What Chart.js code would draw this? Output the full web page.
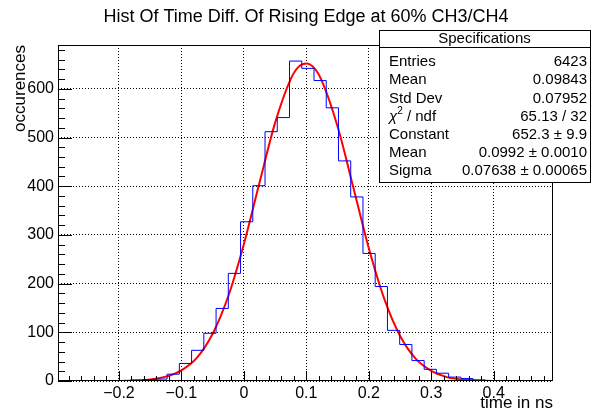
<!DOCTYPE html>
<html>
<head>
<meta charset="utf-8">
<script src="https://cdn.jsdelivr.net/npm/chart.js@4.4.1/dist/chart.umd.min.js"></script>
<style>
  body { margin: 0; background: #fff; }
</style>
</head>
<body>
<canvas id="chart" width="592" height="414"></canvas>
<script>
// histogram bins (lower edge of first bin, bin width) and counts
const firstEdge = -0.2993;
const binWidth = 0.0196;
const counts = [0, 0, 0, 0, 0, 0, 2, 3, 4, 14, 36, 63, 98, 149, 221, 327, 401, 512, 541, 657,
                642, 617, 561, 452, 378, 262, 194, 104, 75, 42, 24, 16, 8, 5, 2, 1, 0, 0, 0, 0, 0];

// gaussian fit curve, sampled from the red line
const fitX = [-0.2976, -0.2, -0.15, -0.125, -0.1, -0.075, -0.05, -0.025, 0, 0.025, 0.05, 0.075, 0.0875,
              0.1, 0.1125, 0.125, 0.15, 0.175, 0.2, 0.225, 0.25, 0.275, 0.3, 0.325, 0.35, 0.4, 0.495];
const fitY = [0, 0, 3, 9, 22, 48, 97, 174, 281, 407, 530, 620, 645,
              652, 643, 616, 523, 399, 273, 168, 93, 46, 21, 8, 3, 0, 0];

const xTicks = [-0.2, -0.1, 0, 0.1, 0.2, 0.3, 0.4];
const xTickLabels = ['\u22120.2', '\u22120.1', '0', '0.1', '0.2', '0.3', '0.4'];
const yTicks = [0, 100, 200, 300, 400, 500, 600];

const statsTitle = 'Specifications';
const statsLabels = ['Entries', 'Mean', 'Std Dev', 'chi2', 'Constant', 'Mean', 'Sigma'];
const statsValues = ['6423', '0.09843', '0.07952', '65.13 / 32', '652.3 \u00b1 9.9',
                     '0.0992 \u00b1 0.0010', '0.07638 \u00b1 0.00065'];

const FONT = '"Liberation Sans", Arial, sans-serif';

const histData = counts.map((c, i) => ({x: firstEdge + i * binWidth, y: c}));
histData.push({x: firstEdge + counts.length * binWidth, y: 0});
const fitData = fitX.map((x, i) => ({x: x, y: fitY[i]}));

// frame, inward ticks and the stats box, ROOT style
const rootFrame = {
  id: 'rootFrame',
  afterDraw(chart) {
    const ctx = chart.ctx;
    const a = chart.chartArea;
    const x = chart.scales.x;
    const y = chart.scales.y;
    ctx.save();
    ctx.strokeStyle = '#000';
    ctx.lineWidth = 1;
    ctx.setLineDash([]);
    ctx.strokeRect(Math.round(a.left) + 0.5, Math.round(a.top) + 0.5,
                   Math.round(a.right - a.left) - 1, Math.round(a.bottom - a.top) - 1);

    ctx.beginPath();
    for (let i = -14; i <= 24; i++) {
      const px = Math.round(x.getPixelForValue(i * 0.02)) + 0.5;
      const len = i % 5 === 0 ? 10 : 5;
      ctx.moveTo(px, a.bottom);
      ctx.lineTo(px, a.bottom - len);
    }
    for (let i = 0; i <= 34; i++) {
      const py = Math.round(y.getPixelForValue(i * 20)) + 0.5;
      const len = i % 5 === 0 ? 14 : 7;
      ctx.moveTo(a.left, py);
      ctx.lineTo(a.left + len, py);
    }
    ctx.stroke();

    // stats box
    const bx = 379, by = 30, bw = 211, bh = 152;
    ctx.fillStyle = '#fff';
    ctx.fillRect(bx, by, bw, bh);
    ctx.strokeRect(bx + 0.5, by + 0.5, bw, bh);
    ctx.beginPath();
    ctx.moveTo(bx, 47.5);
    ctx.lineTo(bx + bw, 47.5);
    ctx.stroke();

    ctx.fillStyle = '#000';
    ctx.font = '15px ' + FONT;
    ctx.textBaseline = 'middle';
    ctx.textAlign = 'center';
    ctx.fillText(statsTitle, bx + bw / 2, 39);
    for (let i = 0; i < statsLabels.length; i++) {
      const ry = 62 + i * 18.2;
      ctx.textAlign = 'left';
      if (statsLabels[i] === 'chi2') {
        ctx.font = 'italic 15px ' + FONT;
        ctx.fillText('\u03c7', 389, ry);
        let w = ctx.measureText('\u03c7').width;
        ctx.font = '10px ' + FONT;
        ctx.fillText('2', 389 + w, ry - 5);
        w += ctx.measureText('2').width;
        ctx.font = '15px ' + FONT;
        ctx.fillText(' / ndf', 389 + w, ry);
      } else {
        ctx.fillText(statsLabels[i], 389, ry);
      }
      ctx.textAlign = 'right';
      ctx.fillText(statsValues[i], 587, ry);
    }
    ctx.restore();
  }
};

const myChart = new Chart(document.getElementById('chart').getContext('2d'), {
  type: 'line',
  data: {
    datasets: [
      {
        label: 'histogram',
        data: histData,
        stepped: 'before',
        borderColor: '#0000ff',
        borderWidth: 1,
        pointRadius: 0,
        fill: false
      },
      {
        label: 'fit',
        data: fitData,
        borderColor: '#ff0000',
        borderWidth: 2,
        pointRadius: 0,
        cubicInterpolationMode: 'monotone',
        fill: false
      }
    ]
  },
  options: {
    responsive: false,
    animation: false,
    // title box spans 10..602 so it is centred at x = 306 like the original
    layout: { padding: { left: 10, right: -10, top: 0, bottom: 0 } },
    plugins: {
      legend: { display: false },
      tooltip: { enabled: false },
      title: {
        display: true,
        text: 'Hist Of Time Diff. Of Rising Edge at 60% CH3/CH4',
        color: '#000',
        font: { family: FONT, size: 18, weight: 'normal' },
        padding: { top: 6, bottom: 17.4 }
      }
    },
    scales: {
      x: {
        type: 'linear',
        min: -0.2976,
        max: 0.495,
        afterBuildTicks: (s) => { s.ticks = xTicks.map(v => ({value: v})); },
        afterFit: (s) => { s.height = 33; },
        ticks: {
          color: '#000',
          padding: 3,
          maxRotation: 0,
          font: { family: FONT, size: 16 },
          callback: (v) => xTickLabels[xTicks.indexOf(v)]
        },
        grid: { color: '#000', lineWidth: 1, drawTicks: false },
        border: { display: false, dash: [1, 2] },
        title: {
          display: true,
          text: 'time in ns',
          align: 'end',
          color: '#000',
          font: { family: FONT, size: 17 },
          padding: { top: 0, bottom: 0 }
        }
      },
      y: {
        min: 0,
        max: 690,
        afterBuildTicks: (s) => { s.ticks = yTicks.map(v => ({value: v})); },
        afterFit: (s) => { s.width = 48; },
        ticks: {
          color: '#000',
          padding: 4,
          font: { family: FONT, size: 16 }
        },
        grid: { color: '#000', lineWidth: 1, drawTicks: false },
        border: { display: false, dash: [1, 2] },
        title: {
          display: true,
          text: 'occurences',
          align: 'end',
          color: '#000',
          font: { family: FONT, size: 17 },
          padding: { top: 0, bottom: 0 }
        }
      },
      // empty right-hand axis that keeps the frame ending at x = 553
      y2: {
        position: 'right',
        afterFit: (s) => { s.width = 49; },
        ticks: { display: false },
        grid: { display: false, drawOnChartArea: false },
        border: { display: false }
      }
    }
  },
  plugins: [rootFrame]
});
</script>
</body>
</html>
